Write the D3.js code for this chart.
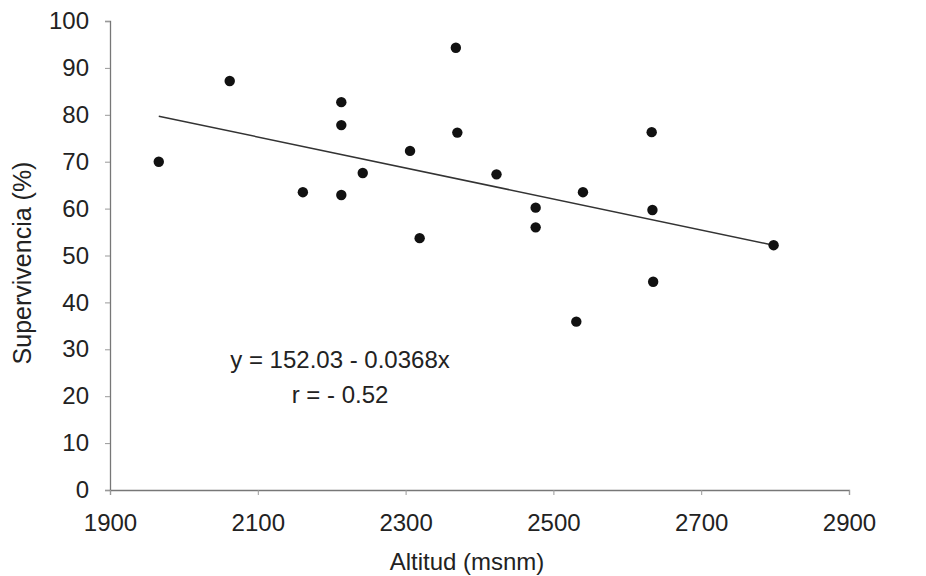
<!DOCTYPE html>
<html><head><meta charset="utf-8">
<script src="https://cdn.jsdelivr.net/npm/d3@7"></script>
<style>
html,body{margin:0;padding:0;background:#fff;}
text{font-family:"Liberation Sans",Arial,sans-serif;fill:#222;}
</style></head>
<body>
<svg id="chart" width="926" height="576"></svg>
<script>
// Data
const altitud = [1966, 2062, 2161, 2213, 2213, 2213, 2242, 2306, 2319, 2368, 2370, 2423, 2476, 2476, 2531, 2540, 2633, 2634, 2635, 2798];
const supervivencia = [70, 87.2, 63.5, 82.7, 77.8, 62.9, 67.6, 72.3, 53.7, 94.3, 76.2, 67.3, 60.2, 56.0, 35.9, 63.5, 76.3, 59.7, 44.4, 52.2];
const trendX = [1966, 2798];
const trendY = [79.7, 52.2];
const xTicks = [1900, 2100, 2300, 2500, 2700, 2900];
const yTicks = [0, 10, 20, 30, 40, 50, 60, 70, 80, 90, 100];
const equationLines = ["y = 152.03 - 0.0368x", "r = - 0.52"];

const FS = "24px";
const svg = d3.select("#chart");
const x = d3.scaleLinear().domain([1900, 2900]).range([110, 849]);
const y = d3.scaleLinear().domain([0, 100]).range([490, 21]);

// axes
const yAxis = svg.append("g").attr("transform", `translate(${x(1900)},0)`)
  .call(d3.axisLeft(y).tickValues(yTicks).tickSize(5).tickPadding(16).tickFormat(d3.format("d")));
const xAxis = svg.append("g").attr("transform", `translate(0,${y(0)})`)
  .call(d3.axisBottom(x).tickValues(xTicks).tickSize(5).tickPadding(19).tickFormat(d3.format("d")));
[yAxis, xAxis].forEach(a => {
  a.select(".domain").attr("stroke", "#777").attr("stroke-width", 1.3);
  a.selectAll(".tick line").attr("stroke", "#999");
  a.selectAll(".tick text").style("font-size", FS).attr("fill", "#222");
});

// trend line
svg.append("line")
  .attr("x1", x(trendX[0])).attr("y1", y(trendY[0]))
  .attr("x2", x(trendX[1])).attr("y2", y(trendY[1]))
  .attr("stroke", "#333").attr("stroke-width", 1.5);

// points
svg.append("g").selectAll("circle").data(altitud).join("circle")
  .attr("cx", (d) => x(d))
  .attr("cy", (d, i) => y(supervivencia[i]))
  .attr("r", 5.2)
  .attr("fill", "#111");

// equation
svg.append("text").attr("x", 340).attr("y", 368).attr("text-anchor", "middle")
  .style("font-size", FS).text(equationLines[0]);
svg.append("text").attr("x", 340).attr("y", 403).attr("text-anchor", "middle")
  .style("font-size", FS).text(equationLines[1]);

// axis titles
svg.append("text").attr("x", 467).attr("y", 570).attr("text-anchor", "middle")
  .style("font-size", FS).text("Altitud (msnm)");
svg.append("text").attr("transform", "translate(31,263) rotate(-90)").attr("text-anchor", "middle")
  .style("font-size", "25px").text("Supervivencia (%)");
</script>
</body></html>
